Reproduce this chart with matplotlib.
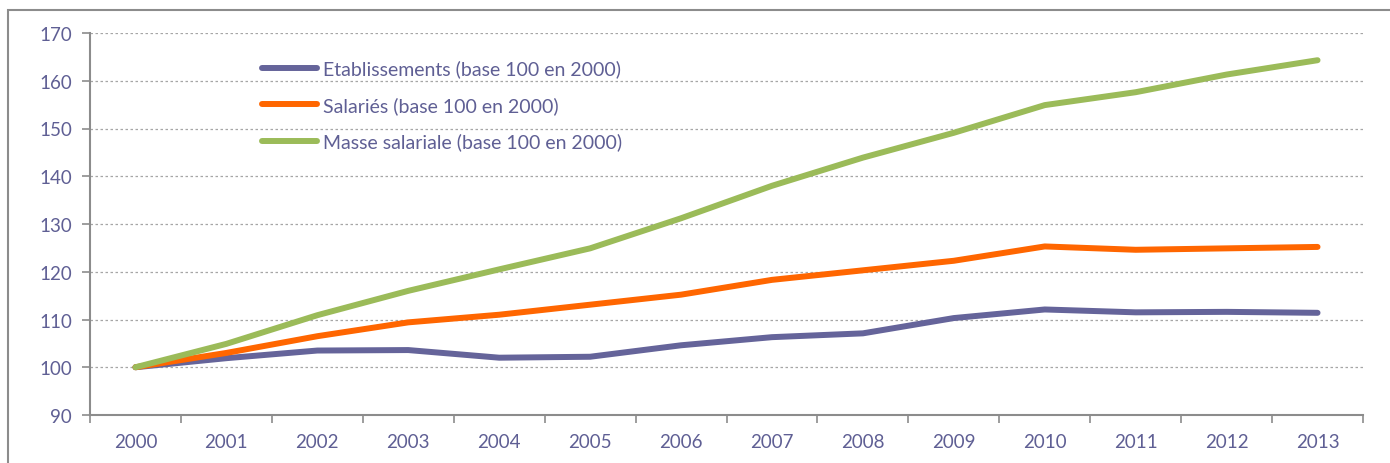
import matplotlib
matplotlib.use("Agg")
import matplotlib.pyplot as plt
from matplotlib.patches import Rectangle

years = ['2000', '2001', '2002', '2003', '2004', '2005', '2006',
         '2007', '2008', '2009', '2010', '2011', '2012', '2013']
etablissements = [100, 101.9, 103.5, 103.6, 102.0, 102.2, 104.6,
                  106.3, 107.1, 110.3, 112.1, 111.5, 111.6, 111.4]
salaries = [100, 103.0, 106.5, 109.4, 111.0, 113.1, 115.2,
            118.3, 120.3, 122.3, 125.3, 124.6, 124.9, 125.2]
masse = [100, 104.9, 110.9, 116.0, 120.5, 124.9, 131.2,
         138.0, 143.9, 149.1, 154.9, 157.6, 161.3, 164.3]

text_color = '#5F5F94'
grid_color = '#A6A6A6'

plt.rcParams['font.family'] = ['Lato', 'DejaVu Sans']

fig = plt.figure(figsize=(13.9, 4.64), dpi=100)
ax = fig.add_axes([90 / 1390, 1 - 416 / 464, 1273 / 1390, 382 / 464])

x = list(range(len(years)))
ax.plot(x, etablissements, c='#65649A', lw=4.3, solid_capstyle='round',
        label='Etablissements (base 100 en 2000)', zorder=3)
ax.plot(x, salaries, c='#FF6600', lw=4.3, solid_capstyle='round',
        label='Salariés (base 100 en 2000)', zorder=3)
ax.plot(x, masse, c='#9BBB59', lw=4.3, solid_capstyle='round',
        label='Masse salariale (base 100 en 2000)', zorder=3)

ax.set_xlim(-0.5, len(years) - 0.5)
ax.set_ylim(90, 170)
ax.set_yticks(range(90, 171, 10))
ax.set_xticks(x)
ax.set_xticklabels(years)
ax.set_xticks([i - 0.5 for i in range(len(years) + 1)], minor=True)
ax.tick_params(axis='x', which='major', length=0, pad=13, labelsize=13.5, labelcolor=text_color)
ax.tick_params(axis='x', which='minor', length=6, width=1.2, color='#8C8C8C', direction='out')
ax.tick_params(axis='y', length=6, width=1.2, color='#8C8C8C', labelsize=13.5,
               labelcolor=text_color, pad=7)

ax.grid(axis='y', ls=(0, (2, 2)), color=grid_color, lw=0.9)
ax.set_axisbelow(True)
for s in ['top', 'right']:
    ax.spines[s].set_visible(False)
for s in ['left', 'bottom']:
    ax.spines[s].set_color('#8C8C8C')
    ax.spines[s].set_linewidth(1.5)

leg = ax.legend(loc='upper left', bbox_to_anchor=(0.135, 0.93), frameon=False,
                borderpad=0, borderaxespad=0, handlelength=2.85, handletextpad=0.3,
                labelspacing=0.95, fontsize=14)
for t in leg.get_texts():
    t.set_color(text_color)

fig.patches.append(Rectangle((8 / 1390, -0.1), 1.2, 1 - 11 / 464 + 0.1,
                             transform=fig.transFigure, fill=False,
                             edgecolor='#8C8C8C', lw=1.5, clip_on=False))

fig.savefig('out.png', dpi=100)
